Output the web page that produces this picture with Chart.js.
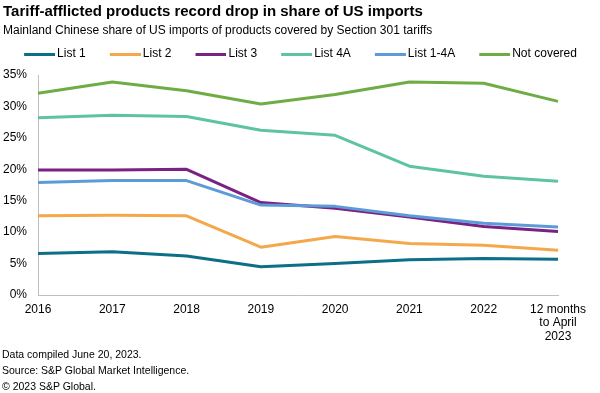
<!DOCTYPE html>
<html>
<head>
<meta charset="utf-8">
<script src="https://cdn.jsdelivr.net/npm/chart.js@4"></script>
<style>
  html, body { margin: 0; padding: 0; background: #fff; }
  body { font-family: "Liberation Sans", Arial, sans-serif; color: #000; }
  #wrap { position: relative; width: 600px; height: 393px; overflow: hidden; }
  #wrap canvas { position: absolute; left: 0; top: 0; }
  .txt { position: absolute; left: 3px; white-space: nowrap; z-index: 2; }
  #title { top: 2px; font-size: 15px; font-weight: bold; line-height: 18px; }
  #subtitle { top: 23px; font-size: 12px; line-height: 14px; }
  #footer { top: 346px; left: 2px; font-size: 10.5px; line-height: 16px; }
</style>
</head>
<body>
<div id="wrap">
  <canvas id="chart" width="600" height="393"></canvas>
  <div class="txt" id="title">Tariff-afflicted products record drop in share of US imports</div>
  <div class="txt" id="subtitle">Mainland Chinese share of US imports of products covered by Section 301 tariffs</div>
  <div class="txt" id="footer">Data compiled June 20, 2023.<br>Source: S&amp;P Global Market Intelligence.<br>&copy; 2023 S&amp;P Global.</div>
</div>
<script>
// Data (share of US imports, %)
const years = ['2016', '2017', '2018', '2019', '2020', '2021', '2022', ['12 months', 'to April', '2023']];
const list1 = [6.6, 6.9, 6.2, 4.5, 5.0, 5.6, 5.8, 5.7];
const list2 = [12.6, 12.7, 12.6, 7.6, 9.3, 8.2, 7.9, 7.1];
const list3 = [19.9, 19.9, 20.0, 14.7, 13.8, 12.4, 10.9, 10.1];
const list4a = [28.2, 28.6, 28.4, 26.2, 25.4, 20.5, 18.9, 18.1];
const list14a = [17.9, 18.2, 18.2, 14.3, 14.1, 12.6, 11.4, 10.8];
const notCovered = [32.1, 33.9, 32.5, 30.4, 31.9, 33.9, 33.7, 30.8];

const FONT = '"Liberation Sans", Arial, sans-serif';
const BOX = 38; // legend box width

// legend swatch: a 31px line that ends just before the label text
function swatch(color) {
  const c = document.createElement('canvas');
  c.width = 46; c.height = 4;
  const g = c.getContext('2d');
  g.fillStyle = color;
  g.fillRect(15, 1, 31, 3);
  return c;
}

function series(label, data, color, order) {
  return {
    label, data, order,
    borderColor: color,
    backgroundColor: color,
    borderWidth: 3,
    borderJoinStyle: 'round',
    pointStyle: swatch(color),
    pointRadius: 0,
    pointHoverRadius: 0,
    tension: 0,
  };
}

// legend box is taller than Chart.js would make it, and nudged left a bit
const legendFix = {
  id: 'legendFix',
  beforeInit(chart) {
    const fit = chart.legend.fit;
    chart.legend.fit = function () {
      fit.call(this);
      this.height = 40;
    };
  },
  afterLayout(chart) {
    chart.legend.left -= 5;
    chart.legend.right -= 5;
  },
};

new Chart(document.getElementById('chart'), {
  type: 'line',
  data: {
    labels: years,
    datasets: [
      series('List 1', list1, '#0b6f88', 2),
      series('List 2', list2, '#f4a84c', 2),
      series('List 3', list3, '#7a2283', 2),
      series('List 4A', list4a, '#5ec3a3', 2),
      series('List 1-4A', list14a, '#5c9bd7', 1),
      series('Not covered', notCovered, '#70ac44', 2),
    ],
  },
  options: {
    responsive: false,
    devicePixelRatio: 1,
    animation: false,
    layout: { padding: { left: 0, right: 0, top: 35, bottom: 43 } },
    plugins: {
      tooltip: { enabled: false },
      legend: {
        position: 'top',
        align: 'center',
        labels: {
          usePointStyle: true,
          pointStyleWidth: BOX,
          padding: 13,
          color: '#000',
          font: { family: FONT, size: 12 },
          sort: (a, b) => a.datasetIndex - b.datasetIndex,
        },
      },
    },
    scales: {
      x: {
        grid: { display: false, drawTicks: false },
        border: { display: true, color: '#bfbfbf', width: 1 },
        ticks: {
          color: '#000', padding: 8, maxRotation: 0, autoSkip: false,
          font: { family: FONT, size: 12, lineHeight: 1.12 },
        },
        afterFit(s) { s.height = 55; s.paddingRight = 42; },
      },
      y: {
        min: 0, max: 35,
        grid: { display: false, drawTicks: false },
        border: { display: true, color: '#bfbfbf', width: 1 },
        ticks: {
          stepSize: 5, color: '#000', padding: 11,
          font: { family: FONT, size: 12 },
          callback: v => v + '%',
        },
        afterFit(s) { s.width = 38; },
      },
    },
  },
  plugins: [legendFix],
});
</script>
</body>
</html>
